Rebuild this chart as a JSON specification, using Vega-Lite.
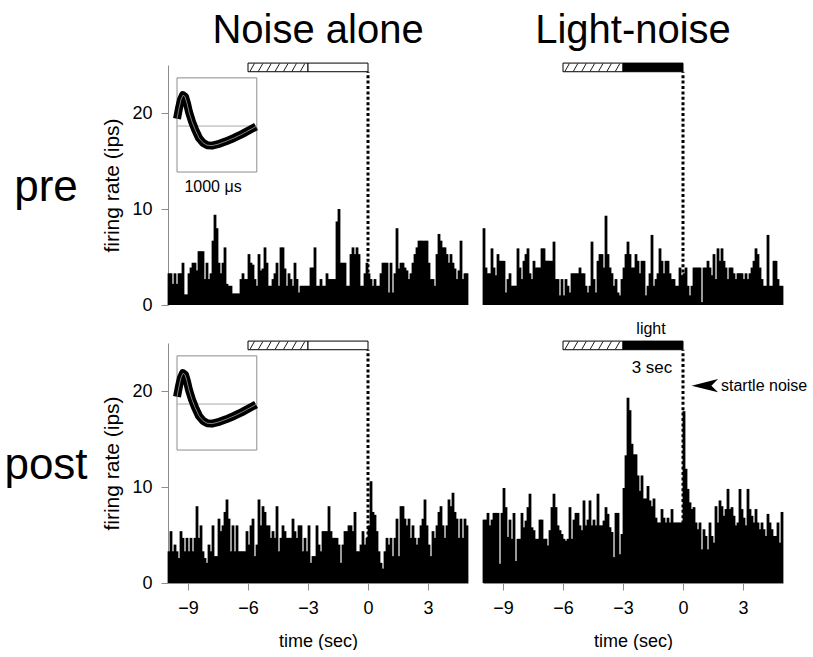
{
"$schema": "https://vega.github.io/schema/vega-lite/v6.json",
"autosize": {"type": "pad"},
"padding": {"left": 4, "top": 11, "right": 0, "bottom": 0},
"background": "white",
"config": {
 "font": "Liberation Sans",
 "view": {"stroke": null},
 "axis": {"grid": false, "domainColor": "#8c8c8c", "tickColor": "#8c8c8c", "labelColor": "black", "titleColor": "black", "labelFontSize": 18, "titleFontSize": 21, "titleFontWeight": "normal", "tickSize": 7, "labelPadding": 9},
 "header": {"labelColor": "black", "labelFont": "Liberation Sans"}
},
"spacing": {"row": 38, "column": 15},
"bounds": "flush",
"data": {"values": [
{"k":"h","r":"pre","c":"Noise alone","t":-9.95,"v":3.3},{"k":"h","r":"pre","c":"Noise alone","t":-9.85,"v":3.3},{"k":"h","r":"pre","c":"Noise alone","t":-9.75,"v":2.2},{"k":"h","r":"pre","c":"Noise alone","t":-9.65,"v":3.3},{"k":"h","r":"pre","c":"Noise alone","t":-9.55,"v":2.2},{"k":"h","r":"pre","c":"Noise alone","t":-9.45,"v":3.3},{"k":"h","r":"pre","c":"Noise alone","t":-9.35,"v":3.3},{"k":"h","r":"pre","c":"Noise alone","t":-9.25,"v":4.4},{"k":"h","r":"pre","c":"Noise alone","t":-9.15,"v":1.1},{"k":"h","r":"pre","c":"Noise alone","t":-9.05,"v":1.1},
{"k":"h","r":"pre","c":"Noise alone","t":-8.95,"v":3.3},{"k":"h","r":"pre","c":"Noise alone","t":-8.85,"v":3.9},{"k":"h","r":"pre","c":"Noise alone","t":-8.75,"v":4.4},{"k":"h","r":"pre","c":"Noise alone","t":-8.65,"v":4.4},{"k":"h","r":"pre","c":"Noise alone","t":-8.55,"v":3.6},{"k":"h","r":"pre","c":"Noise alone","t":-8.45,"v":5.6},{"k":"h","r":"pre","c":"Noise alone","t":-8.35,"v":5.6},{"k":"h","r":"pre","c":"Noise alone","t":-8.25,"v":5.6},{"k":"h","r":"pre","c":"Noise alone","t":-8.15,"v":2.7},{"k":"h","r":"pre","c":"Noise alone","t":-8.05,"v":4.4},
{"k":"h","r":"pre","c":"Noise alone","t":-7.95,"v":2.7},{"k":"h","r":"pre","c":"Noise alone","t":-7.85,"v":3.3},{"k":"h","r":"pre","c":"Noise alone","t":-7.75,"v":6.7},{"k":"h","r":"pre","c":"Noise alone","t":-7.65,"v":9.4},{"k":"h","r":"pre","c":"Noise alone","t":-7.55,"v":8.0},{"k":"h","r":"pre","c":"Noise alone","t":-7.45,"v":4.4},{"k":"h","r":"pre","c":"Noise alone","t":-7.35,"v":3.3},{"k":"h","r":"pre","c":"Noise alone","t":-7.25,"v":4.4},{"k":"h","r":"pre","c":"Noise alone","t":-7.15,"v":6.0},{"k":"h","r":"pre","c":"Noise alone","t":-7.05,"v":2.2},
{"k":"h","r":"pre","c":"Noise alone","t":-6.95,"v":2.0},{"k":"h","r":"pre","c":"Noise alone","t":-6.85,"v":2.0},{"k":"h","r":"pre","c":"Noise alone","t":-6.75,"v":1.2},{"k":"h","r":"pre","c":"Noise alone","t":-6.65,"v":1.2},{"k":"h","r":"pre","c":"Noise alone","t":-6.55,"v":1.2},{"k":"h","r":"pre","c":"Noise alone","t":-6.45,"v":1.2},{"k":"h","r":"pre","c":"Noise alone","t":-6.35,"v":2.7},{"k":"h","r":"pre","c":"Noise alone","t":-6.25,"v":3.3},{"k":"h","r":"pre","c":"Noise alone","t":-6.15,"v":2.7},{"k":"h","r":"pre","c":"Noise alone","t":-6.05,"v":2.7},
{"k":"h","r":"pre","c":"Noise alone","t":-5.95,"v":5.3},{"k":"h","r":"pre","c":"Noise alone","t":-5.85,"v":4.4},{"k":"h","r":"pre","c":"Noise alone","t":-5.75,"v":4.2},{"k":"h","r":"pre","c":"Noise alone","t":-5.65,"v":2.7},{"k":"h","r":"pre","c":"Noise alone","t":-5.55,"v":2.0},{"k":"h","r":"pre","c":"Noise alone","t":-5.45,"v":5.3},{"k":"h","r":"pre","c":"Noise alone","t":-5.35,"v":3.6},{"k":"h","r":"pre","c":"Noise alone","t":-5.25,"v":3.8},{"k":"h","r":"pre","c":"Noise alone","t":-5.15,"v":6.0},{"k":"h","r":"pre","c":"Noise alone","t":-5.05,"v":4.4},
{"k":"h","r":"pre","c":"Noise alone","t":-4.95,"v":2.0},{"k":"h","r":"pre","c":"Noise alone","t":-4.85,"v":2.0},{"k":"h","r":"pre","c":"Noise alone","t":-4.75,"v":2.7},{"k":"h","r":"pre","c":"Noise alone","t":-4.65,"v":3.3},{"k":"h","r":"pre","c":"Noise alone","t":-4.55,"v":4.4},{"k":"h","r":"pre","c":"Noise alone","t":-4.45,"v":2.0},{"k":"h","r":"pre","c":"Noise alone","t":-4.35,"v":6.0},{"k":"h","r":"pre","c":"Noise alone","t":-4.25,"v":6.0},{"k":"h","r":"pre","c":"Noise alone","t":-4.15,"v":3.8},{"k":"h","r":"pre","c":"Noise alone","t":-4.05,"v":2.0},
{"k":"h","r":"pre","c":"Noise alone","t":-3.95,"v":3.3},{"k":"h","r":"pre","c":"Noise alone","t":-3.85,"v":2.7},{"k":"h","r":"pre","c":"Noise alone","t":-3.75,"v":2.0},{"k":"h","r":"pre","c":"Noise alone","t":-3.65,"v":4.4},{"k":"h","r":"pre","c":"Noise alone","t":-3.55,"v":2.7},{"k":"h","r":"pre","c":"Noise alone","t":-3.45,"v":1.3},{"k":"h","r":"pre","c":"Noise alone","t":-3.35,"v":2.0},{"k":"h","r":"pre","c":"Noise alone","t":-3.25,"v":2.0},{"k":"h","r":"pre","c":"Noise alone","t":-3.15,"v":2.0},{"k":"h","r":"pre","c":"Noise alone","t":-3.05,"v":2.0},
{"k":"h","r":"pre","c":"Noise alone","t":-2.95,"v":2.0},{"k":"h","r":"pre","c":"Noise alone","t":-2.85,"v":3.9},{"k":"h","r":"pre","c":"Noise alone","t":-2.75,"v":3.9},{"k":"h","r":"pre","c":"Noise alone","t":-2.65,"v":6.0},{"k":"h","r":"pre","c":"Noise alone","t":-2.55,"v":2.0},{"k":"h","r":"pre","c":"Noise alone","t":-2.45,"v":2.0},{"k":"h","r":"pre","c":"Noise alone","t":-2.35,"v":2.7},{"k":"h","r":"pre","c":"Noise alone","t":-2.25,"v":2.0},{"k":"h","r":"pre","c":"Noise alone","t":-2.15,"v":2.0},{"k":"h","r":"pre","c":"Noise alone","t":-2.05,"v":3.3},
{"k":"h","r":"pre","c":"Noise alone","t":-1.95,"v":2.7},{"k":"h","r":"pre","c":"Noise alone","t":-1.85,"v":2.7},{"k":"h","r":"pre","c":"Noise alone","t":-1.75,"v":2.7},{"k":"h","r":"pre","c":"Noise alone","t":-1.65,"v":2.7},{"k":"h","r":"pre","c":"Noise alone","t":-1.55,"v":8.7},{"k":"h","r":"pre","c":"Noise alone","t":-1.45,"v":10.0},{"k":"h","r":"pre","c":"Noise alone","t":-1.35,"v":4.4},{"k":"h","r":"pre","c":"Noise alone","t":-1.25,"v":4.4},{"k":"h","r":"pre","c":"Noise alone","t":-1.15,"v":4.4},{"k":"h","r":"pre","c":"Noise alone","t":-1.05,"v":2.0},
{"k":"h","r":"pre","c":"Noise alone","t":-0.95,"v":2.0},{"k":"h","r":"pre","c":"Noise alone","t":-0.85,"v":5.3},{"k":"h","r":"pre","c":"Noise alone","t":-0.75,"v":6.0},{"k":"h","r":"pre","c":"Noise alone","t":-0.65,"v":5.3},{"k":"h","r":"pre","c":"Noise alone","t":-0.55,"v":6.0},{"k":"h","r":"pre","c":"Noise alone","t":-0.45,"v":5.3},{"k":"h","r":"pre","c":"Noise alone","t":-0.35,"v":2.0},{"k":"h","r":"pre","c":"Noise alone","t":-0.25,"v":2.0},{"k":"h","r":"pre","c":"Noise alone","t":-0.15,"v":3.3},{"k":"h","r":"pre","c":"Noise alone","t":-0.05,"v":4.4},
{"k":"h","r":"pre","c":"Noise alone","t":0.05,"v":3.3},{"k":"h","r":"pre","c":"Noise alone","t":0.15,"v":2.7},{"k":"h","r":"pre","c":"Noise alone","t":0.25,"v":2.0},{"k":"h","r":"pre","c":"Noise alone","t":0.35,"v":2.7},{"k":"h","r":"pre","c":"Noise alone","t":0.45,"v":2.0},{"k":"h","r":"pre","c":"Noise alone","t":0.55,"v":2.0},{"k":"h","r":"pre","c":"Noise alone","t":0.65,"v":3.3},{"k":"h","r":"pre","c":"Noise alone","t":0.75,"v":4.4},{"k":"h","r":"pre","c":"Noise alone","t":0.85,"v":4.4},{"k":"h","r":"pre","c":"Noise alone","t":0.95,"v":4.4},
{"k":"h","r":"pre","c":"Noise alone","t":1.05,"v":1.3},{"k":"h","r":"pre","c":"Noise alone","t":1.15,"v":4.4},{"k":"h","r":"pre","c":"Noise alone","t":1.25,"v":1.3},{"k":"h","r":"pre","c":"Noise alone","t":1.35,"v":3.3},{"k":"h","r":"pre","c":"Noise alone","t":1.45,"v":8.0},{"k":"h","r":"pre","c":"Noise alone","t":1.55,"v":3.8},{"k":"h","r":"pre","c":"Noise alone","t":1.65,"v":4.4},{"k":"h","r":"pre","c":"Noise alone","t":1.75,"v":4.4},{"k":"h","r":"pre","c":"Noise alone","t":1.85,"v":3.9},{"k":"h","r":"pre","c":"Noise alone","t":1.95,"v":3.6},
{"k":"h","r":"pre","c":"Noise alone","t":2.05,"v":2.7},{"k":"h","r":"pre","c":"Noise alone","t":2.15,"v":3.3},{"k":"h","r":"pre","c":"Noise alone","t":2.25,"v":4.4},{"k":"h","r":"pre","c":"Noise alone","t":2.35,"v":5.3},{"k":"h","r":"pre","c":"Noise alone","t":2.45,"v":6.0},{"k":"h","r":"pre","c":"Noise alone","t":2.55,"v":6.7},{"k":"h","r":"pre","c":"Noise alone","t":2.65,"v":6.7},{"k":"h","r":"pre","c":"Noise alone","t":2.75,"v":6.7},{"k":"h","r":"pre","c":"Noise alone","t":2.85,"v":6.7},{"k":"h","r":"pre","c":"Noise alone","t":2.95,"v":6.7},
{"k":"h","r":"pre","c":"Noise alone","t":3.05,"v":4.4},{"k":"h","r":"pre","c":"Noise alone","t":3.15,"v":2.7},{"k":"h","r":"pre","c":"Noise alone","t":3.25,"v":2.7},{"k":"h","r":"pre","c":"Noise alone","t":3.35,"v":2.0},{"k":"h","r":"pre","c":"Noise alone","t":3.45,"v":5.3},{"k":"h","r":"pre","c":"Noise alone","t":3.55,"v":7.4},{"k":"h","r":"pre","c":"Noise alone","t":3.65,"v":6.7},{"k":"h","r":"pre","c":"Noise alone","t":3.75,"v":6.0},{"k":"h","r":"pre","c":"Noise alone","t":3.85,"v":6.0},{"k":"h","r":"pre","c":"Noise alone","t":3.95,"v":5.3},
{"k":"h","r":"pre","c":"Noise alone","t":4.05,"v":4.4},{"k":"h","r":"pre","c":"Noise alone","t":4.15,"v":5.3},{"k":"h","r":"pre","c":"Noise alone","t":4.25,"v":4.4},{"k":"h","r":"pre","c":"Noise alone","t":4.35,"v":3.8},{"k":"h","r":"pre","c":"Noise alone","t":4.45,"v":2.7},{"k":"h","r":"pre","c":"Noise alone","t":4.55,"v":3.6},{"k":"h","r":"pre","c":"Noise alone","t":4.65,"v":6.7},{"k":"h","r":"pre","c":"Noise alone","t":4.75,"v":2.7},{"k":"h","r":"pre","c":"Noise alone","t":4.85,"v":3.3},{"k":"h","r":"pre","c":"Noise alone","t":4.95,"v":3.3},

{"k":"h","r":"pre","c":"Light-noise","t":-9.95,"v":8.0},{"k":"h","r":"pre","c":"Light-noise","t":-9.85,"v":3.9},{"k":"h","r":"pre","c":"Light-noise","t":-9.75,"v":3.3},{"k":"h","r":"pre","c":"Light-noise","t":-9.65,"v":3.3},{"k":"h","r":"pre","c":"Light-noise","t":-9.55,"v":5.9},{"k":"h","r":"pre","c":"Light-noise","t":-9.45,"v":3.9},{"k":"h","r":"pre","c":"Light-noise","t":-9.35,"v":3.1},{"k":"h","r":"pre","c":"Light-noise","t":-9.25,"v":5.3},{"k":"h","r":"pre","c":"Light-noise","t":-9.15,"v":4.6},{"k":"h","r":"pre","c":"Light-noise","t":-9.05,"v":4.6},
{"k":"h","r":"pre","c":"Light-noise","t":-8.95,"v":4.6},{"k":"h","r":"pre","c":"Light-noise","t":-8.85,"v":1.3},{"k":"h","r":"pre","c":"Light-noise","t":-8.75,"v":2.7},{"k":"h","r":"pre","c":"Light-noise","t":-8.65,"v":3.3},{"k":"h","r":"pre","c":"Light-noise","t":-8.55,"v":2.0},{"k":"h","r":"pre","c":"Light-noise","t":-8.45,"v":2.0},{"k":"h","r":"pre","c":"Light-noise","t":-8.35,"v":2.0},{"k":"h","r":"pre","c":"Light-noise","t":-8.25,"v":5.9},{"k":"h","r":"pre","c":"Light-noise","t":-8.15,"v":3.9},{"k":"h","r":"pre","c":"Light-noise","t":-8.05,"v":2.7},
{"k":"h","r":"pre","c":"Light-noise","t":-7.95,"v":4.6},{"k":"h","r":"pre","c":"Light-noise","t":-7.85,"v":5.3},{"k":"h","r":"pre","c":"Light-noise","t":-7.75,"v":5.9},{"k":"h","r":"pre","c":"Light-noise","t":-7.65,"v":3.3},{"k":"h","r":"pre","c":"Light-noise","t":-7.55,"v":2.7},{"k":"h","r":"pre","c":"Light-noise","t":-7.45,"v":4.6},{"k":"h","r":"pre","c":"Light-noise","t":-7.35,"v":3.9},{"k":"h","r":"pre","c":"Light-noise","t":-7.25,"v":3.9},{"k":"h","r":"pre","c":"Light-noise","t":-7.15,"v":3.9},{"k":"h","r":"pre","c":"Light-noise","t":-7.05,"v":5.9},
{"k":"h","r":"pre","c":"Light-noise","t":-6.95,"v":5.9},{"k":"h","r":"pre","c":"Light-noise","t":-6.85,"v":4.6},{"k":"h","r":"pre","c":"Light-noise","t":-6.75,"v":4.6},{"k":"h","r":"pre","c":"Light-noise","t":-6.65,"v":4.6},{"k":"h","r":"pre","c":"Light-noise","t":-6.55,"v":4.6},{"k":"h","r":"pre","c":"Light-noise","t":-6.45,"v":6.6},{"k":"h","r":"pre","c":"Light-noise","t":-6.35,"v":2.7},{"k":"h","r":"pre","c":"Light-noise","t":-6.25,"v":2.7},{"k":"h","r":"pre","c":"Light-noise","t":-6.15,"v":1.0},{"k":"h","r":"pre","c":"Light-noise","t":-6.05,"v":2.7},
{"k":"h","r":"pre","c":"Light-noise","t":-5.95,"v":1.0},{"k":"h","r":"pre","c":"Light-noise","t":-5.85,"v":2.7},{"k":"h","r":"pre","c":"Light-noise","t":-5.75,"v":2.0},{"k":"h","r":"pre","c":"Light-noise","t":-5.65,"v":1.3},{"k":"h","r":"pre","c":"Light-noise","t":-5.55,"v":3.3},{"k":"h","r":"pre","c":"Light-noise","t":-5.45,"v":3.3},{"k":"h","r":"pre","c":"Light-noise","t":-5.35,"v":3.3},{"k":"h","r":"pre","c":"Light-noise","t":-5.25,"v":3.3},{"k":"h","r":"pre","c":"Light-noise","t":-5.15,"v":3.9},{"k":"h","r":"pre","c":"Light-noise","t":-5.05,"v":3.3},
{"k":"h","r":"pre","c":"Light-noise","t":-4.95,"v":3.3},{"k":"h","r":"pre","c":"Light-noise","t":-4.85,"v":2.0},{"k":"h","r":"pre","c":"Light-noise","t":-4.75,"v":1.3},{"k":"h","r":"pre","c":"Light-noise","t":-4.65,"v":2.0},{"k":"h","r":"pre","c":"Light-noise","t":-4.55,"v":6.6},{"k":"h","r":"pre","c":"Light-noise","t":-4.45,"v":2.7},{"k":"h","r":"pre","c":"Light-noise","t":-4.35,"v":1.3},{"k":"h","r":"pre","c":"Light-noise","t":-4.25,"v":4.6},{"k":"h","r":"pre","c":"Light-noise","t":-4.15,"v":5.3},{"k":"h","r":"pre","c":"Light-noise","t":-4.05,"v":5.3},
{"k":"h","r":"pre","c":"Light-noise","t":-3.95,"v":3.9},{"k":"h","r":"pre","c":"Light-noise","t":-3.85,"v":9.3},{"k":"h","r":"pre","c":"Light-noise","t":-3.75,"v":5.3},{"k":"h","r":"pre","c":"Light-noise","t":-3.65,"v":3.9},{"k":"h","r":"pre","c":"Light-noise","t":-3.55,"v":3.3},{"k":"h","r":"pre","c":"Light-noise","t":-3.45,"v":2.0},{"k":"h","r":"pre","c":"Light-noise","t":-3.35,"v":2.7},{"k":"h","r":"pre","c":"Light-noise","t":-3.25,"v":1.3},{"k":"h","r":"pre","c":"Light-noise","t":-3.15,"v":1.0},{"k":"h","r":"pre","c":"Light-noise","t":-3.05,"v":2.7},
{"k":"h","r":"pre","c":"Light-noise","t":-2.95,"v":3.9},{"k":"h","r":"pre","c":"Light-noise","t":-2.85,"v":5.3},{"k":"h","r":"pre","c":"Light-noise","t":-2.75,"v":6.6},{"k":"h","r":"pre","c":"Light-noise","t":-2.65,"v":5.3},{"k":"h","r":"pre","c":"Light-noise","t":-2.55,"v":3.9},{"k":"h","r":"pre","c":"Light-noise","t":-2.45,"v":3.9},{"k":"h","r":"pre","c":"Light-noise","t":-2.35,"v":5.3},{"k":"h","r":"pre","c":"Light-noise","t":-2.25,"v":4.6},{"k":"h","r":"pre","c":"Light-noise","t":-2.15,"v":3.3},{"k":"h","r":"pre","c":"Light-noise","t":-2.05,"v":4.6},
{"k":"h","r":"pre","c":"Light-noise","t":-1.95,"v":4.6},{"k":"h","r":"pre","c":"Light-noise","t":-1.85,"v":1.0},{"k":"h","r":"pre","c":"Light-noise","t":-1.75,"v":2.0},{"k":"h","r":"pre","c":"Light-noise","t":-1.65,"v":3.3},{"k":"h","r":"pre","c":"Light-noise","t":-1.55,"v":7.3},{"k":"h","r":"pre","c":"Light-noise","t":-1.45,"v":2.0},{"k":"h","r":"pre","c":"Light-noise","t":-1.35,"v":2.7},{"k":"h","r":"pre","c":"Light-noise","t":-1.25,"v":3.3},{"k":"h","r":"pre","c":"Light-noise","t":-1.15,"v":5.9},{"k":"h","r":"pre","c":"Light-noise","t":-1.05,"v":4.6},
{"k":"h","r":"pre","c":"Light-noise","t":-0.95,"v":3.3},{"k":"h","r":"pre","c":"Light-noise","t":-0.85,"v":4.6},{"k":"h","r":"pre","c":"Light-noise","t":-0.75,"v":4.6},{"k":"h","r":"pre","c":"Light-noise","t":-0.65,"v":3.3},{"k":"h","r":"pre","c":"Light-noise","t":-0.55,"v":2.7},{"k":"h","r":"pre","c":"Light-noise","t":-0.45,"v":2.7},{"k":"h","r":"pre","c":"Light-noise","t":-0.35,"v":2.0},{"k":"h","r":"pre","c":"Light-noise","t":-0.25,"v":2.0},{"k":"h","r":"pre","c":"Light-noise","t":-0.15,"v":3.9},{"k":"h","r":"pre","c":"Light-noise","t":-0.05,"v":3.1},
{"k":"h","r":"pre","c":"Light-noise","t":0.05,"v":3.3},{"k":"h","r":"pre","c":"Light-noise","t":0.15,"v":3.9},{"k":"h","r":"pre","c":"Light-noise","t":0.25,"v":2.0},{"k":"h","r":"pre","c":"Light-noise","t":0.35,"v":1.0},{"k":"h","r":"pre","c":"Light-noise","t":0.45,"v":2.0},{"k":"h","r":"pre","c":"Light-noise","t":0.55,"v":3.9},{"k":"h","r":"pre","c":"Light-noise","t":0.65,"v":3.9},{"k":"h","r":"pre","c":"Light-noise","t":0.75,"v":3.9},{"k":"h","r":"pre","c":"Light-noise","t":0.85,"v":3.9},{"k":"h","r":"pre","c":"Light-noise","t":0.95,"v":0.3},
{"k":"h","r":"pre","c":"Light-noise","t":1.05,"v":3.9},{"k":"h","r":"pre","c":"Light-noise","t":1.15,"v":3.9},{"k":"h","r":"pre","c":"Light-noise","t":1.25,"v":4.6},{"k":"h","r":"pre","c":"Light-noise","t":1.35,"v":3.9},{"k":"h","r":"pre","c":"Light-noise","t":1.45,"v":3.1},{"k":"h","r":"pre","c":"Light-noise","t":1.55,"v":5.3},{"k":"h","r":"pre","c":"Light-noise","t":1.65,"v":2.7},{"k":"h","r":"pre","c":"Light-noise","t":1.75,"v":5.9},{"k":"h","r":"pre","c":"Light-noise","t":1.85,"v":4.6},{"k":"h","r":"pre","c":"Light-noise","t":1.95,"v":5.9},
{"k":"h","r":"pre","c":"Light-noise","t":2.05,"v":4.6},{"k":"h","r":"pre","c":"Light-noise","t":2.15,"v":3.9},{"k":"h","r":"pre","c":"Light-noise","t":2.25,"v":2.7},{"k":"h","r":"pre","c":"Light-noise","t":2.35,"v":3.9},{"k":"h","r":"pre","c":"Light-noise","t":2.45,"v":3.9},{"k":"h","r":"pre","c":"Light-noise","t":2.55,"v":3.3},{"k":"h","r":"pre","c":"Light-noise","t":2.65,"v":2.7},{"k":"h","r":"pre","c":"Light-noise","t":2.75,"v":3.3},{"k":"h","r":"pre","c":"Light-noise","t":2.85,"v":3.3},{"k":"h","r":"pre","c":"Light-noise","t":2.95,"v":3.3},
{"k":"h","r":"pre","c":"Light-noise","t":3.05,"v":2.7},{"k":"h","r":"pre","c":"Light-noise","t":3.15,"v":3.3},{"k":"h","r":"pre","c":"Light-noise","t":3.25,"v":2.7},{"k":"h","r":"pre","c":"Light-noise","t":3.35,"v":3.3},{"k":"h","r":"pre","c":"Light-noise","t":3.45,"v":3.9},{"k":"h","r":"pre","c":"Light-noise","t":3.55,"v":4.6},{"k":"h","r":"pre","c":"Light-noise","t":3.65,"v":5.9},{"k":"h","r":"pre","c":"Light-noise","t":3.75,"v":5.3},{"k":"h","r":"pre","c":"Light-noise","t":3.85,"v":3.9},{"k":"h","r":"pre","c":"Light-noise","t":3.95,"v":2.7},
{"k":"h","r":"pre","c":"Light-noise","t":4.05,"v":2.0},{"k":"h","r":"pre","c":"Light-noise","t":4.15,"v":2.0},{"k":"h","r":"pre","c":"Light-noise","t":4.25,"v":7.3},{"k":"h","r":"pre","c":"Light-noise","t":4.35,"v":2.0},{"k":"h","r":"pre","c":"Light-noise","t":4.45,"v":2.0},{"k":"h","r":"pre","c":"Light-noise","t":4.55,"v":4.6},{"k":"h","r":"pre","c":"Light-noise","t":4.65,"v":4.6},{"k":"h","r":"pre","c":"Light-noise","t":4.75,"v":2.7},{"k":"h","r":"pre","c":"Light-noise","t":4.85,"v":2.0},{"k":"h","r":"pre","c":"Light-noise","t":4.95,"v":2.0},

{"k":"h","r":"post","c":"Noise alone","t":-9.95,"v":3.3},{"k":"h","r":"post","c":"Noise alone","t":-9.85,"v":5.4},{"k":"h","r":"post","c":"Noise alone","t":-9.75,"v":3.3},{"k":"h","r":"post","c":"Noise alone","t":-9.65,"v":4.0},{"k":"h","r":"post","c":"Noise alone","t":-9.55,"v":3.3},{"k":"h","r":"post","c":"Noise alone","t":-9.45,"v":2.6},{"k":"h","r":"post","c":"Noise alone","t":-9.35,"v":5.4},{"k":"h","r":"post","c":"Noise alone","t":-9.25,"v":4.7},{"k":"h","r":"post","c":"Noise alone","t":-9.15,"v":3.3},{"k":"h","r":"post","c":"Noise alone","t":-9.05,"v":4.7},
{"k":"h","r":"post","c":"Noise alone","t":-8.95,"v":3.3},{"k":"h","r":"post","c":"Noise alone","t":-8.85,"v":4.7},{"k":"h","r":"post","c":"Noise alone","t":-8.75,"v":3.3},{"k":"h","r":"post","c":"Noise alone","t":-8.65,"v":4.7},{"k":"h","r":"post","c":"Noise alone","t":-8.55,"v":8.0},{"k":"h","r":"post","c":"Noise alone","t":-8.45,"v":4.7},{"k":"h","r":"post","c":"Noise alone","t":-8.35,"v":6.0},{"k":"h","r":"post","c":"Noise alone","t":-8.25,"v":3.3},{"k":"h","r":"post","c":"Noise alone","t":-8.15,"v":2.6},{"k":"h","r":"post","c":"Noise alone","t":-8.05,"v":2.1},
{"k":"h","r":"post","c":"Noise alone","t":-7.95,"v":4.0},{"k":"h","r":"post","c":"Noise alone","t":-7.85,"v":3.3},{"k":"h","r":"post","c":"Noise alone","t":-7.75,"v":6.0},{"k":"h","r":"post","c":"Noise alone","t":-7.65,"v":2.8},{"k":"h","r":"post","c":"Noise alone","t":-7.55,"v":2.8},{"k":"h","r":"post","c":"Noise alone","t":-7.45,"v":6.7},{"k":"h","r":"post","c":"Noise alone","t":-7.35,"v":5.4},{"k":"h","r":"post","c":"Noise alone","t":-7.25,"v":6.0},{"k":"h","r":"post","c":"Noise alone","t":-7.15,"v":7.4},{"k":"h","r":"post","c":"Noise alone","t":-7.05,"v":8.7},
{"k":"h","r":"post","c":"Noise alone","t":-6.95,"v":6.7},{"k":"h","r":"post","c":"Noise alone","t":-6.85,"v":3.3},{"k":"h","r":"post","c":"Noise alone","t":-6.75,"v":6.0},{"k":"h","r":"post","c":"Noise alone","t":-6.65,"v":3.3},{"k":"h","r":"post","c":"Noise alone","t":-6.55,"v":6.0},{"k":"h","r":"post","c":"Noise alone","t":-6.45,"v":3.3},{"k":"h","r":"post","c":"Noise alone","t":-6.35,"v":3.3},{"k":"h","r":"post","c":"Noise alone","t":-6.25,"v":3.3},{"k":"h","r":"post","c":"Noise alone","t":-6.15,"v":3.3},{"k":"h","r":"post","c":"Noise alone","t":-6.05,"v":5.4},
{"k":"h","r":"post","c":"Noise alone","t":-5.95,"v":4.0},{"k":"h","r":"post","c":"Noise alone","t":-5.85,"v":6.0},{"k":"h","r":"post","c":"Noise alone","t":-5.75,"v":6.7},{"k":"h","r":"post","c":"Noise alone","t":-5.65,"v":2.8},{"k":"h","r":"post","c":"Noise alone","t":-5.55,"v":4.0},{"k":"h","r":"post","c":"Noise alone","t":-5.45,"v":8.7},{"k":"h","r":"post","c":"Noise alone","t":-5.35,"v":6.0},{"k":"h","r":"post","c":"Noise alone","t":-5.25,"v":8.0},{"k":"h","r":"post","c":"Noise alone","t":-5.15,"v":7.4},{"k":"h","r":"post","c":"Noise alone","t":-5.05,"v":6.0},
{"k":"h","r":"post","c":"Noise alone","t":-4.95,"v":6.0},{"k":"h","r":"post","c":"Noise alone","t":-4.85,"v":4.7},{"k":"h","r":"post","c":"Noise alone","t":-4.75,"v":5.4},{"k":"h","r":"post","c":"Noise alone","t":-4.65,"v":4.7},{"k":"h","r":"post","c":"Noise alone","t":-4.55,"v":8.0},{"k":"h","r":"post","c":"Noise alone","t":-4.45,"v":3.3},{"k":"h","r":"post","c":"Noise alone","t":-4.35,"v":4.7},{"k":"h","r":"post","c":"Noise alone","t":-4.25,"v":6.0},{"k":"h","r":"post","c":"Noise alone","t":-4.15,"v":5.4},{"k":"h","r":"post","c":"Noise alone","t":-4.05,"v":4.7},
{"k":"h","r":"post","c":"Noise alone","t":-3.95,"v":4.7},{"k":"h","r":"post","c":"Noise alone","t":-3.85,"v":4.7},{"k":"h","r":"post","c":"Noise alone","t":-3.75,"v":6.7},{"k":"h","r":"post","c":"Noise alone","t":-3.65,"v":5.4},{"k":"h","r":"post","c":"Noise alone","t":-3.55,"v":4.7},{"k":"h","r":"post","c":"Noise alone","t":-3.45,"v":6.0},{"k":"h","r":"post","c":"Noise alone","t":-3.35,"v":6.0},{"k":"h","r":"post","c":"Noise alone","t":-3.25,"v":3.3},{"k":"h","r":"post","c":"Noise alone","t":-3.15,"v":4.7},{"k":"h","r":"post","c":"Noise alone","t":-3.05,"v":3.3},
{"k":"h","r":"post","c":"Noise alone","t":-2.95,"v":6.0},{"k":"h","r":"post","c":"Noise alone","t":-2.85,"v":2.1},{"k":"h","r":"post","c":"Noise alone","t":-2.75,"v":2.8},{"k":"h","r":"post","c":"Noise alone","t":-2.65,"v":2.8},{"k":"h","r":"post","c":"Noise alone","t":-2.55,"v":6.0},{"k":"h","r":"post","c":"Noise alone","t":-2.45,"v":4.0},{"k":"h","r":"post","c":"Noise alone","t":-2.35,"v":3.3},{"k":"h","r":"post","c":"Noise alone","t":-2.25,"v":5.4},{"k":"h","r":"post","c":"Noise alone","t":-2.15,"v":5.4},{"k":"h","r":"post","c":"Noise alone","t":-2.05,"v":5.4},
{"k":"h","r":"post","c":"Noise alone","t":-1.95,"v":8.0},{"k":"h","r":"post","c":"Noise alone","t":-1.85,"v":5.4},{"k":"h","r":"post","c":"Noise alone","t":-1.75,"v":4.7},{"k":"h","r":"post","c":"Noise alone","t":-1.65,"v":4.7},{"k":"h","r":"post","c":"Noise alone","t":-1.55,"v":4.7},{"k":"h","r":"post","c":"Noise alone","t":-1.45,"v":4.0},{"k":"h","r":"post","c":"Noise alone","t":-1.35,"v":2.1},{"k":"h","r":"post","c":"Noise alone","t":-1.25,"v":4.0},{"k":"h","r":"post","c":"Noise alone","t":-1.15,"v":5.4},{"k":"h","r":"post","c":"Noise alone","t":-1.05,"v":5.4},
{"k":"h","r":"post","c":"Noise alone","t":-0.95,"v":6.0},{"k":"h","r":"post","c":"Noise alone","t":-0.85,"v":6.0},{"k":"h","r":"post","c":"Noise alone","t":-0.75,"v":5.4},{"k":"h","r":"post","c":"Noise alone","t":-0.65,"v":7.4},{"k":"h","r":"post","c":"Noise alone","t":-0.55,"v":3.3},{"k":"h","r":"post","c":"Noise alone","t":-0.45,"v":3.3},{"k":"h","r":"post","c":"Noise alone","t":-0.35,"v":4.0},{"k":"h","r":"post","c":"Noise alone","t":-0.25,"v":5.4},{"k":"h","r":"post","c":"Noise alone","t":-0.15,"v":4.0},{"k":"h","r":"post","c":"Noise alone","t":-0.05,"v":4.7},
{"k":"h","r":"post","c":"Noise alone","t":0.05,"v":6.0},{"k":"h","r":"post","c":"Noise alone","t":0.15,"v":10.6},{"k":"h","r":"post","c":"Noise alone","t":0.25,"v":7.4},{"k":"h","r":"post","c":"Noise alone","t":0.35,"v":7.1},{"k":"h","r":"post","c":"Noise alone","t":0.45,"v":5.4},{"k":"h","r":"post","c":"Noise alone","t":0.55,"v":3.3},{"k":"h","r":"post","c":"Noise alone","t":0.65,"v":2.1},{"k":"h","r":"post","c":"Noise alone","t":0.75,"v":1.5},{"k":"h","r":"post","c":"Noise alone","t":0.85,"v":3.3},{"k":"h","r":"post","c":"Noise alone","t":0.95,"v":4.7},
{"k":"h","r":"post","c":"Noise alone","t":1.05,"v":4.0},{"k":"h","r":"post","c":"Noise alone","t":1.15,"v":4.7},{"k":"h","r":"post","c":"Noise alone","t":1.25,"v":2.8},{"k":"h","r":"post","c":"Noise alone","t":1.35,"v":4.7},{"k":"h","r":"post","c":"Noise alone","t":1.45,"v":6.7},{"k":"h","r":"post","c":"Noise alone","t":1.55,"v":2.8},{"k":"h","r":"post","c":"Noise alone","t":1.65,"v":8.0},{"k":"h","r":"post","c":"Noise alone","t":1.75,"v":8.0},{"k":"h","r":"post","c":"Noise alone","t":1.85,"v":6.7},{"k":"h","r":"post","c":"Noise alone","t":1.95,"v":6.0},
{"k":"h","r":"post","c":"Noise alone","t":2.05,"v":6.7},{"k":"h","r":"post","c":"Noise alone","t":2.15,"v":4.7},{"k":"h","r":"post","c":"Noise alone","t":2.25,"v":6.0},{"k":"h","r":"post","c":"Noise alone","t":2.35,"v":4.7},{"k":"h","r":"post","c":"Noise alone","t":2.45,"v":4.0},{"k":"h","r":"post","c":"Noise alone","t":2.55,"v":4.7},{"k":"h","r":"post","c":"Noise alone","t":2.65,"v":6.0},{"k":"h","r":"post","c":"Noise alone","t":2.75,"v":6.7},{"k":"h","r":"post","c":"Noise alone","t":2.85,"v":8.7},{"k":"h","r":"post","c":"Noise alone","t":2.95,"v":6.0},
{"k":"h","r":"post","c":"Noise alone","t":3.05,"v":4.0},{"k":"h","r":"post","c":"Noise alone","t":3.15,"v":2.8},{"k":"h","r":"post","c":"Noise alone","t":3.25,"v":5.4},{"k":"h","r":"post","c":"Noise alone","t":3.35,"v":4.7},{"k":"h","r":"post","c":"Noise alone","t":3.45,"v":6.0},{"k":"h","r":"post","c":"Noise alone","t":3.55,"v":7.4},{"k":"h","r":"post","c":"Noise alone","t":3.65,"v":8.0},{"k":"h","r":"post","c":"Noise alone","t":3.75,"v":6.0},{"k":"h","r":"post","c":"Noise alone","t":3.85,"v":4.7},{"k":"h","r":"post","c":"Noise alone","t":3.95,"v":6.0},
{"k":"h","r":"post","c":"Noise alone","t":4.05,"v":8.7},{"k":"h","r":"post","c":"Noise alone","t":4.15,"v":8.0},{"k":"h","r":"post","c":"Noise alone","t":4.25,"v":9.4},{"k":"h","r":"post","c":"Noise alone","t":4.35,"v":7.4},{"k":"h","r":"post","c":"Noise alone","t":4.45,"v":6.7},{"k":"h","r":"post","c":"Noise alone","t":4.55,"v":4.7},{"k":"h","r":"post","c":"Noise alone","t":4.65,"v":6.7},{"k":"h","r":"post","c":"Noise alone","t":4.75,"v":4.7},{"k":"h","r":"post","c":"Noise alone","t":4.85,"v":6.7},{"k":"h","r":"post","c":"Noise alone","t":4.95,"v":6.0},

{"k":"h","r":"post","c":"Light-noise","t":-9.95,"v":6.6},{"k":"h","r":"post","c":"Light-noise","t":-9.85,"v":6.6},{"k":"h","r":"post","c":"Light-noise","t":-9.75,"v":7.3},{"k":"h","r":"post","c":"Light-noise","t":-9.65,"v":6.0},{"k":"h","r":"post","c":"Light-noise","t":-9.55,"v":6.6},{"k":"h","r":"post","c":"Light-noise","t":-9.45,"v":7.3},{"k":"h","r":"post","c":"Light-noise","t":-9.35,"v":7.3},{"k":"h","r":"post","c":"Light-noise","t":-9.25,"v":7.3},{"k":"h","r":"post","c":"Light-noise","t":-9.15,"v":2.0},{"k":"h","r":"post","c":"Light-noise","t":-9.05,"v":7.3},
{"k":"h","r":"post","c":"Light-noise","t":-8.95,"v":9.9},{"k":"h","r":"post","c":"Light-noise","t":-8.85,"v":7.9},{"k":"h","r":"post","c":"Light-noise","t":-8.75,"v":4.8},{"k":"h","r":"post","c":"Light-noise","t":-8.65,"v":6.6},{"k":"h","r":"post","c":"Light-noise","t":-8.55,"v":4.6},{"k":"h","r":"post","c":"Light-noise","t":-8.45,"v":7.3},{"k":"h","r":"post","c":"Light-noise","t":-8.35,"v":2.3},{"k":"h","r":"post","c":"Light-noise","t":-8.25,"v":4.6},{"k":"h","r":"post","c":"Light-noise","t":-8.15,"v":4.6},{"k":"h","r":"post","c":"Light-noise","t":-8.05,"v":7.3},
{"k":"h","r":"post","c":"Light-noise","t":-7.95,"v":5.8},{"k":"h","r":"post","c":"Light-noise","t":-7.85,"v":6.5},{"k":"h","r":"post","c":"Light-noise","t":-7.75,"v":7.9},{"k":"h","r":"post","c":"Light-noise","t":-7.65,"v":9.3},{"k":"h","r":"post","c":"Light-noise","t":-7.55,"v":5.8},{"k":"h","r":"post","c":"Light-noise","t":-7.45,"v":5.5},{"k":"h","r":"post","c":"Light-noise","t":-7.35,"v":4.6},{"k":"h","r":"post","c":"Light-noise","t":-7.25,"v":4.6},{"k":"h","r":"post","c":"Light-noise","t":-7.15,"v":6.6},{"k":"h","r":"post","c":"Light-noise","t":-7.05,"v":6.6},
{"k":"h","r":"post","c":"Light-noise","t":-6.95,"v":4.6},{"k":"h","r":"post","c":"Light-noise","t":-6.85,"v":4.6},{"k":"h","r":"post","c":"Light-noise","t":-6.75,"v":3.9},{"k":"h","r":"post","c":"Light-noise","t":-6.65,"v":5.5},{"k":"h","r":"post","c":"Light-noise","t":-6.55,"v":7.9},{"k":"h","r":"post","c":"Light-noise","t":-6.45,"v":9.3},{"k":"h","r":"post","c":"Light-noise","t":-6.35,"v":7.9},{"k":"h","r":"post","c":"Light-noise","t":-6.25,"v":6.0},{"k":"h","r":"post","c":"Light-noise","t":-6.15,"v":5.5},{"k":"h","r":"post","c":"Light-noise","t":-6.05,"v":5.1},
{"k":"h","r":"post","c":"Light-noise","t":-5.95,"v":4.6},{"k":"h","r":"post","c":"Light-noise","t":-5.85,"v":4.4},{"k":"h","r":"post","c":"Light-noise","t":-5.75,"v":4.6},{"k":"h","r":"post","c":"Light-noise","t":-5.65,"v":7.9},{"k":"h","r":"post","c":"Light-noise","t":-5.55,"v":4.6},{"k":"h","r":"post","c":"Light-noise","t":-5.45,"v":6.6},{"k":"h","r":"post","c":"Light-noise","t":-5.35,"v":7.3},{"k":"h","r":"post","c":"Light-noise","t":-5.25,"v":7.3},{"k":"h","r":"post","c":"Light-noise","t":-5.15,"v":6.0},{"k":"h","r":"post","c":"Light-noise","t":-5.05,"v":5.5},
{"k":"h","r":"post","c":"Light-noise","t":-4.95,"v":8.6},{"k":"h","r":"post","c":"Light-noise","t":-4.85,"v":6.0},{"k":"h","r":"post","c":"Light-noise","t":-4.75,"v":6.6},{"k":"h","r":"post","c":"Light-noise","t":-4.65,"v":8.6},{"k":"h","r":"post","c":"Light-noise","t":-4.55,"v":6.0},{"k":"h","r":"post","c":"Light-noise","t":-4.45,"v":6.6},{"k":"h","r":"post","c":"Light-noise","t":-4.35,"v":6.0},{"k":"h","r":"post","c":"Light-noise","t":-4.25,"v":9.3},{"k":"h","r":"post","c":"Light-noise","t":-4.15,"v":6.0},{"k":"h","r":"post","c":"Light-noise","t":-4.05,"v":6.0},
{"k":"h","r":"post","c":"Light-noise","t":-3.95,"v":6.5},{"k":"h","r":"post","c":"Light-noise","t":-3.85,"v":7.9},{"k":"h","r":"post","c":"Light-noise","t":-3.75,"v":7.2},{"k":"h","r":"post","c":"Light-noise","t":-3.65,"v":5.8},{"k":"h","r":"post","c":"Light-noise","t":-3.55,"v":5.3},{"k":"h","r":"post","c":"Light-noise","t":-3.45,"v":2.7},{"k":"h","r":"post","c":"Light-noise","t":-3.35,"v":7.3},{"k":"h","r":"post","c":"Light-noise","t":-3.25,"v":7.3},{"k":"h","r":"post","c":"Light-noise","t":-3.15,"v":3.0},{"k":"h","r":"post","c":"Light-noise","t":-3.05,"v":5.1},
{"k":"h","r":"post","c":"Light-noise","t":-2.95,"v":9.9},{"k":"h","r":"post","c":"Light-noise","t":-2.85,"v":13.3},{"k":"h","r":"post","c":"Light-noise","t":-2.75,"v":19.3},{"k":"h","r":"post","c":"Light-noise","t":-2.65,"v":18.0},{"k":"h","r":"post","c":"Light-noise","t":-2.55,"v":14.5},{"k":"h","r":"post","c":"Light-noise","t":-2.45,"v":13.4},{"k":"h","r":"post","c":"Light-noise","t":-2.35,"v":13.4},{"k":"h","r":"post","c":"Light-noise","t":-2.25,"v":11.2},{"k":"h","r":"post","c":"Light-noise","t":-2.15,"v":9.6},{"k":"h","r":"post","c":"Light-noise","t":-2.05,"v":11.2},
{"k":"h","r":"post","c":"Light-noise","t":-1.95,"v":8.8},{"k":"h","r":"post","c":"Light-noise","t":-1.85,"v":8.8},{"k":"h","r":"post","c":"Light-noise","t":-1.75,"v":10.1},{"k":"h","r":"post","c":"Light-noise","t":-1.65,"v":8.6},{"k":"h","r":"post","c":"Light-noise","t":-1.55,"v":8.0},{"k":"h","r":"post","c":"Light-noise","t":-1.45,"v":8.8},{"k":"h","r":"post","c":"Light-noise","t":-1.35,"v":6.8},{"k":"h","r":"post","c":"Light-noise","t":-1.25,"v":6.3},{"k":"h","r":"post","c":"Light-noise","t":-1.15,"v":6.3},{"k":"h","r":"post","c":"Light-noise","t":-1.05,"v":7.7},
{"k":"h","r":"post","c":"Light-noise","t":-0.95,"v":6.8},{"k":"h","r":"post","c":"Light-noise","t":-0.85,"v":6.3},{"k":"h","r":"post","c":"Light-noise","t":-0.75,"v":6.8},{"k":"h","r":"post","c":"Light-noise","t":-0.65,"v":6.3},{"k":"h","r":"post","c":"Light-noise","t":-0.55,"v":7.7},{"k":"h","r":"post","c":"Light-noise","t":-0.45,"v":6.3},{"k":"h","r":"post","c":"Light-noise","t":-0.35,"v":6.3},{"k":"h","r":"post","c":"Light-noise","t":-0.25,"v":6.3},{"k":"h","r":"post","c":"Light-noise","t":-0.15,"v":6.3},{"k":"h","r":"post","c":"Light-noise","t":-0.05,"v":6.3},
{"k":"h","r":"post","c":"Light-noise","t":0.05,"v":17.9},{"k":"h","r":"post","c":"Light-noise","t":0.15,"v":11.9},{"k":"h","r":"post","c":"Light-noise","t":0.25,"v":9.8},{"k":"h","r":"post","c":"Light-noise","t":0.35,"v":8.4},{"k":"h","r":"post","c":"Light-noise","t":0.45,"v":7.7},{"k":"h","r":"post","c":"Light-noise","t":0.55,"v":7.9},{"k":"h","r":"post","c":"Light-noise","t":0.65,"v":6.3},{"k":"h","r":"post","c":"Light-noise","t":0.75,"v":5.6},{"k":"h","r":"post","c":"Light-noise","t":0.85,"v":6.3},{"k":"h","r":"post","c":"Light-noise","t":0.95,"v":3.5},
{"k":"h","r":"post","c":"Light-noise","t":1.05,"v":5.6},{"k":"h","r":"post","c":"Light-noise","t":1.15,"v":4.9},{"k":"h","r":"post","c":"Light-noise","t":1.25,"v":3.5},{"k":"h","r":"post","c":"Light-noise","t":1.35,"v":6.3},{"k":"h","r":"post","c":"Light-noise","t":1.45,"v":4.9},{"k":"h","r":"post","c":"Light-noise","t":1.55,"v":4.2},{"k":"h","r":"post","c":"Light-noise","t":1.65,"v":8.0},{"k":"h","r":"post","c":"Light-noise","t":1.75,"v":6.3},{"k":"h","r":"post","c":"Light-noise","t":1.85,"v":8.6},{"k":"h","r":"post","c":"Light-noise","t":1.95,"v":8.0},
{"k":"h","r":"post","c":"Light-noise","t":2.05,"v":7.0},{"k":"h","r":"post","c":"Light-noise","t":2.15,"v":7.7},{"k":"h","r":"post","c":"Light-noise","t":2.25,"v":9.8},{"k":"h","r":"post","c":"Light-noise","t":2.35,"v":7.7},{"k":"h","r":"post","c":"Light-noise","t":2.45,"v":7.9},{"k":"h","r":"post","c":"Light-noise","t":2.55,"v":7.0},{"k":"h","r":"post","c":"Light-noise","t":2.65,"v":6.0},{"k":"h","r":"post","c":"Light-noise","t":2.75,"v":6.3},{"k":"h","r":"post","c":"Light-noise","t":2.85,"v":9.8},{"k":"h","r":"post","c":"Light-noise","t":2.95,"v":7.7},
{"k":"h","r":"post","c":"Light-noise","t":3.05,"v":6.8},{"k":"h","r":"post","c":"Light-noise","t":3.15,"v":6.0},{"k":"h","r":"post","c":"Light-noise","t":3.25,"v":9.8},{"k":"h","r":"post","c":"Light-noise","t":3.35,"v":7.7},{"k":"h","r":"post","c":"Light-noise","t":3.45,"v":7.0},{"k":"h","r":"post","c":"Light-noise","t":3.55,"v":6.3},{"k":"h","r":"post","c":"Light-noise","t":3.65,"v":7.7},{"k":"h","r":"post","c":"Light-noise","t":3.75,"v":6.3},{"k":"h","r":"post","c":"Light-noise","t":3.85,"v":5.6},{"k":"h","r":"post","c":"Light-noise","t":3.95,"v":6.3},
{"k":"h","r":"post","c":"Light-noise","t":4.05,"v":5.6},{"k":"h","r":"post","c":"Light-noise","t":4.15,"v":4.9},{"k":"h","r":"post","c":"Light-noise","t":4.25,"v":7.2},{"k":"h","r":"post","c":"Light-noise","t":4.35,"v":6.3},{"k":"h","r":"post","c":"Light-noise","t":4.45,"v":5.6},{"k":"h","r":"post","c":"Light-noise","t":4.55,"v":4.9},{"k":"h","r":"post","c":"Light-noise","t":4.65,"v":4.9},{"k":"h","r":"post","c":"Light-noise","t":4.75,"v":6.3},{"k":"h","r":"post","c":"Light-noise","t":4.85,"v":4.2},{"k":"h","r":"post","c":"Light-noise","t":4.95,"v":7.4},

{"k":"s","r":"pre","c":"Noise alone","x1":-6,"x2":-3,"f":"w"},{"k":"s","r":"pre","c":"Noise alone","x1":-3,"x2":0,"f":"w"},
{"k":"s","r":"post","c":"Noise alone","x1":-6,"x2":-3,"f":"w"},{"k":"s","r":"post","c":"Noise alone","x1":-3,"x2":0,"f":"w"},
{"k":"s","r":"pre","c":"Light-noise","x1":-6,"x2":-3,"f":"w"},{"k":"s","r":"pre","c":"Light-noise","x1":-3,"x2":0,"f":"b"},
{"k":"s","r":"post","c":"Light-noise","x1":-6,"x2":-3,"f":"w"},{"k":"s","r":"post","c":"Light-noise","x1":-3,"x2":0,"f":"b"},

{"k":"x","r":"pre","c":"Noise alone","a":-5.9,"b":-5.68},{"k":"x","r":"pre","c":"Noise alone","a":-5.48,"b":-5.26},{"k":"x","r":"pre","c":"Noise alone","a":-5.06,"b":-4.84},{"k":"x","r":"pre","c":"Noise alone","a":-4.64,"b":-4.42},{"k":"x","r":"pre","c":"Noise alone","a":-4.22,"b":-4.0},{"k":"x","r":"pre","c":"Noise alone","a":-3.8,"b":-3.58},{"k":"x","r":"pre","c":"Noise alone","a":-3.38,"b":-3.16},
{"k":"x","r":"post","c":"Noise alone","a":-5.9,"b":-5.68},{"k":"x","r":"post","c":"Noise alone","a":-5.48,"b":-5.26},{"k":"x","r":"post","c":"Noise alone","a":-5.06,"b":-4.84},{"k":"x","r":"post","c":"Noise alone","a":-4.64,"b":-4.42},{"k":"x","r":"post","c":"Noise alone","a":-4.22,"b":-4.0},{"k":"x","r":"post","c":"Noise alone","a":-3.8,"b":-3.58},{"k":"x","r":"post","c":"Noise alone","a":-3.38,"b":-3.16},
{"k":"x","r":"pre","c":"Light-noise","a":-5.9,"b":-5.68},{"k":"x","r":"pre","c":"Light-noise","a":-5.48,"b":-5.26},{"k":"x","r":"pre","c":"Light-noise","a":-5.06,"b":-4.84},{"k":"x","r":"pre","c":"Light-noise","a":-4.64,"b":-4.42},{"k":"x","r":"pre","c":"Light-noise","a":-4.22,"b":-4.0},{"k":"x","r":"pre","c":"Light-noise","a":-3.8,"b":-3.58},{"k":"x","r":"pre","c":"Light-noise","a":-3.38,"b":-3.16},
{"k":"x","r":"post","c":"Light-noise","a":-5.9,"b":-5.68},{"k":"x","r":"post","c":"Light-noise","a":-5.48,"b":-5.26},{"k":"x","r":"post","c":"Light-noise","a":-5.06,"b":-4.84},{"k":"x","r":"post","c":"Light-noise","a":-4.64,"b":-4.42},{"k":"x","r":"post","c":"Light-noise","a":-4.22,"b":-4.0},{"k":"x","r":"post","c":"Light-noise","a":-3.8,"b":-3.58},{"k":"x","r":"post","c":"Light-noise","a":-3.38,"b":-3.16},

{"k":"i","r":"pre","c":"Noise alone"},{"k":"i","r":"post","c":"Noise alone"},

{"k":"w","r":"pre","c":"Noise alone","wx":-9.55,"wy":19.4},{"k":"w","r":"pre","c":"Noise alone","wx":-9.45,"wy":20.5},{"k":"w","r":"pre","c":"Noise alone","wx":-9.35,"wy":21.4},{"k":"w","r":"pre","c":"Noise alone","wx":-9.25,"wy":21.85},{"k":"w","r":"pre","c":"Noise alone","wx":-9.15,"wy":21.7},{"k":"w","r":"pre","c":"Noise alone","wx":-9.05,"wy":21.0},{"k":"w","r":"pre","c":"Noise alone","wx":-8.95,"wy":20.1},{"k":"w","r":"pre","c":"Noise alone","wx":-8.8,"wy":19.1},{"k":"w","r":"pre","c":"Noise alone","wx":-8.65,"wy":18.3},{"k":"w","r":"pre","c":"Noise alone","wx":-8.45,"wy":17.4},{"k":"w","r":"pre","c":"Noise alone","wx":-8.25,"wy":16.9},{"k":"w","r":"pre","c":"Noise alone","wx":-8.05,"wy":16.65},{"k":"w","r":"pre","c":"Noise alone","wx":-7.8,"wy":16.6},{"k":"w","r":"pre","c":"Noise alone","wx":-7.5,"wy":16.75},{"k":"w","r":"pre","c":"Noise alone","wx":-7.1,"wy":17.05},{"k":"w","r":"pre","c":"Noise alone","wx":-6.7,"wy":17.4},{"k":"w","r":"pre","c":"Noise alone","wx":-6.3,"wy":17.8},{"k":"w","r":"pre","c":"Noise alone","wx":-5.9,"wy":18.25},{"k":"w","r":"pre","c":"Noise alone","wx":-5.6,"wy":18.6},
{"k":"w","r":"post","c":"Noise alone","wx":-9.55,"wy":19.4},{"k":"w","r":"post","c":"Noise alone","wx":-9.45,"wy":20.5},{"k":"w","r":"post","c":"Noise alone","wx":-9.35,"wy":21.4},{"k":"w","r":"post","c":"Noise alone","wx":-9.25,"wy":21.85},{"k":"w","r":"post","c":"Noise alone","wx":-9.15,"wy":21.7},{"k":"w","r":"post","c":"Noise alone","wx":-9.05,"wy":21.0},{"k":"w","r":"post","c":"Noise alone","wx":-8.95,"wy":20.1},{"k":"w","r":"post","c":"Noise alone","wx":-8.8,"wy":19.1},{"k":"w","r":"post","c":"Noise alone","wx":-8.65,"wy":18.3},{"k":"w","r":"post","c":"Noise alone","wx":-8.45,"wy":17.4},{"k":"w","r":"post","c":"Noise alone","wx":-8.25,"wy":16.9},{"k":"w","r":"post","c":"Noise alone","wx":-8.05,"wy":16.65},{"k":"w","r":"post","c":"Noise alone","wx":-7.8,"wy":16.6},{"k":"w","r":"post","c":"Noise alone","wx":-7.5,"wy":16.75},{"k":"w","r":"post","c":"Noise alone","wx":-7.1,"wy":17.05},{"k":"w","r":"post","c":"Noise alone","wx":-6.7,"wy":17.4},{"k":"w","r":"post","c":"Noise alone","wx":-6.3,"wy":17.8},{"k":"w","r":"post","c":"Noise alone","wx":-5.9,"wy":18.25},{"k":"w","r":"post","c":"Noise alone","wx":-5.6,"wy":18.6},

{"k":"t","r":"pre","c":"Noise alone","x":-7.75,"y":12.25,"s":"1000 μs"},
{"k":"t","r":"post","c":"Light-noise","x":-1.6,"y":26.5,"s":"light"},
{"k":"t","r":"post","c":"Light-noise","x":-1.55,"y":22.4,"s":"3 sec"},
{"k":"t","r":"post","c":"Light-noise","x":1.9,"y":20.55,"s":"startle noise"},
{"k":"a","r":"post","c":"Light-noise","x":1.09,"y":20.55}
]},
"facet": {
 "row": {"field": "r", "type": "nominal", "sort": ["pre", "post"], "header": {"title": null, "labels": false}},
 "column": {"field": "c", "type": "nominal", "sort": ["Noise alone", "Light-noise"], "header": {"title": null, "labelFontSize": 40, "labelPadding": 14}}
},
"spec": {
 "width": 300,
 "height": 240,
 "layer": [
  {"transform": [{"filter": "datum.k=='h'"}],
   "mark": {"type": "bar", "width": 2.8, "color": "black"},
   "encoding": {
    "x": {"field": "t", "type": "quantitative", "scale": {"domain": [-10, 5], "nice": false, "zero": false, "padding": 0}, "axis": {"values": [-9, -6, -3, 0, 3], "title": "time (sec)", "titleFontSize": 18, "titlePadding": 15}},
    "y": {"field": "v", "type": "quantitative", "scale": {"domain": [0, 25], "nice": false}, "axis": {"values": [0, 10, 20], "title": "firing rate (ips)", "titlePadding": 9}}
   }},
  {"transform": [{"filter": "datum.k=='s'"}],
   "mark": {"type": "rect", "stroke": "black", "strokeWidth": 1},
   "encoding": {
    "x": {"field": "x1", "type": "quantitative"}, "x2": {"field": "x2"},
    "y": {"datum": 24.3}, "y2": {"datum": 25.2},
    "fill": {"field": "f", "type": "nominal", "scale": {"domain": ["w", "b"], "range": ["white", "black"]}, "legend": null}
   }},
  {"transform": [{"filter": "datum.k=='x'"}],
   "mark": {"type": "rule", "color": "black", "strokeWidth": 0.9},
   "encoding": {"x": {"field": "a", "type": "quantitative"}, "x2": {"field": "b"}, "y": {"datum": 24.35}, "y2": {"datum": 25.15}}},
  {"transform": [{"filter": "datum.k=='s' && datum.x1==-3"}],
   "mark": {"type": "rule", "color": "black", "strokeWidth": 3, "strokeDash": [3, 2.4]},
   "encoding": {"x": {"field": "x2", "type": "quantitative"}, "y": {"datum": 0}, "y2": {"datum": 24.3}}},
  {"transform": [{"filter": "datum.k=='i'"}],
   "mark": {"type": "rect", "fill": "white", "stroke": "#8c8c8c", "strokeWidth": 1},
   "encoding": {"x": {"datum": -9.55}, "x2": {"datum": -5.56}, "y": {"datum": 13.85}, "y2": {"datum": 23.66}}},
  {"transform": [{"filter": "datum.k=='i'"}],
   "mark": {"type": "rule", "color": "#aaaaaa", "strokeWidth": 1},
   "encoding": {"x": {"datum": -9.55}, "x2": {"datum": -5.56}, "y": {"datum": 18.64}}},
  {"transform": [{"filter": "datum.k=='i'"}],
   "mark": {"type": "text", "fontSize": 44, "align": "center", "baseline": "alphabetic", "color": "black"},
   "encoding": {"x": {"datum": -16.1}, "y": {"datum": 10.8}, "text": {"field": "r"}}},
  {"transform": [{"filter": "datum.k=='w'"}],
   "mark": {"type": "line", "color": "black", "strokeWidth": 8, "strokeCap": "butt", "strokeJoin": "round"},
   "encoding": {"x": {"field": "wx", "type": "quantitative"}, "y": {"field": "wy", "type": "quantitative"}}},
  {"transform": [{"filter": "datum.k=='w'"}],
   "mark": {"type": "line", "color": "#808080", "strokeWidth": 1},
   "encoding": {"x": {"field": "wx", "type": "quantitative"}, "y": {"field": "wy", "type": "quantitative"}}},
  {"transform": [{"filter": "datum.k=='t' && datum.s=='1000 μs'"}],
   "mark": {"type": "text", "fontSize": 16, "align": "center", "baseline": "middle", "color": "black"},
   "encoding": {"x": {"field": "x", "type": "quantitative"}, "y": {"field": "y", "type": "quantitative"}, "text": {"field": "s"}}},
  {"transform": [{"filter": "datum.k=='t' && datum.s=='3 sec'"}],
   "mark": {"type": "text", "fontSize": 17, "align": "center", "baseline": "middle", "color": "black"},
   "encoding": {"x": {"field": "x", "type": "quantitative"}, "y": {"field": "y", "type": "quantitative"}, "text": {"field": "s"}}},
  {"transform": [{"filter": "datum.k=='t' && datum.s=='light'"}],
   "mark": {"type": "text", "fontSize": 16, "align": "center", "baseline": "middle", "color": "black"},
   "encoding": {"x": {"field": "x", "type": "quantitative"}, "y": {"field": "y", "type": "quantitative"}, "text": {"field": "s"}}},
  {"transform": [{"filter": "datum.k=='t' && datum.s=='startle noise'"}],
   "mark": {"type": "text", "fontSize": 16, "align": "left", "baseline": "middle", "color": "black"},
   "encoding": {"x": {"field": "x", "type": "quantitative"}, "y": {"field": "y", "type": "quantitative"}, "text": {"field": "s"}}},
  {"transform": [{"filter": "datum.k=='a'"}],
   "mark": {"type": "point", "shape": "M-1,0L1,-0.5L0.5,0L1,0.5Z", "size": 700, "filled": true, "color": "black", "opacity": 1},
   "encoding": {"x": {"field": "x", "type": "quantitative"}, "y": {"field": "y", "type": "quantitative"}}}
 ]
}
}
